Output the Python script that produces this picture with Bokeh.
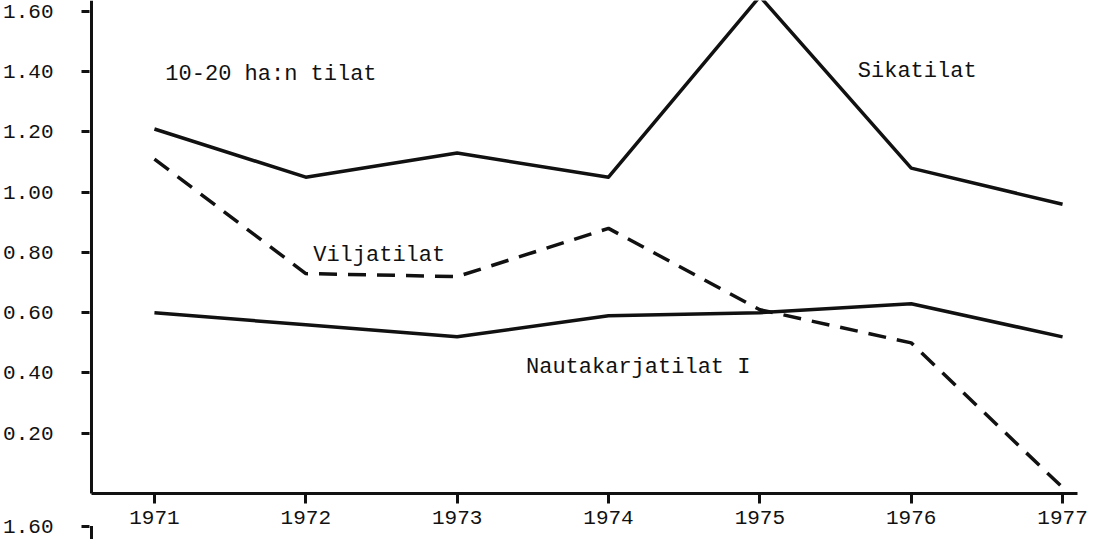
from bokeh.plotting import figure
from bokeh.models import Range1d, FixedTicker, NumeralTickFormatter, Label, LinearAxis
from bokeh.embed import file_html
from bokeh.resources import INLINE

years = [1971, 1972, 1973, 1974, 1975, 1976, 1977]
sikatilat = [1.21, 1.05, 1.13, 1.05, 1.65, 1.08, 0.96]
viljatilat = [1.11, 0.73, 0.72, 0.88, 0.61, 0.50, 0.02]
nautakarjatilat = [0.60, 0.56, 0.52, 0.59, 0.60, 0.63, 0.52]
y_ticks = [0.2, 0.4, 0.6, 0.8, 1.0, 1.2, 1.4, 1.6]
# top tick label of the next chart on the scanned page, cut by the page edge
next_chart_label = "1.60"

FONT = "Liberation Mono"
INK = "#111111"

X0, X1 = 1970.571, 1977.178      # x range (frame spans whole right side)
XA = X0 + 0.0132                  # where the hand-drawn y axis line sits
X_END = 1977.099                  # end of the drawn x axis line
Y0, Y1 = -0.1527, 1.6365
NEXT_TICK = -0.108

p = figure(width=1089, height=539, output_backend="svg", toolbar_location=None,
           x_range=Range1d(X0, X1), y_range=Range1d(Y0, Y1),
           x_axis_location=None, y_axis_location=None,
           min_border_left=88, min_border_right=0, min_border_top=0, min_border_bottom=0)
p.outline_line_color = None
p.grid.grid_line_color = None
p.background_fill_color = "white"
p.border_fill_color = "white"


def style(ax):
    ax.axis_line_width = 3
    ax.axis_line_color = INK
    ax.major_tick_line_width = 3
    ax.major_tick_line_color = INK
    ax.major_tick_in = 0
    ax.minor_tick_line_color = None
    ax.major_label_text_font = FONT
    ax.major_label_text_font_size = "21px"
    ax.major_label_text_color = INK


xaxis = LinearAxis(fixed_location=0, bounds=(XA, X_END), ticker=FixedTicker(ticks=years))
style(xaxis)
xaxis.major_tick_out = 10
xaxis.major_label_standoff = 8
p.add_layout(xaxis, "below")

yaxis = LinearAxis(ticker=FixedTicker(ticks=[NEXT_TICK] + y_ticks),
                   formatter=NumeralTickFormatter(format="0.00"),
                   major_label_overrides={NEXT_TICK: next_chart_label})
style(yaxis)
yaxis.axis_line_color = None
yaxis.major_tick_out = 8
yaxis.major_label_standoff = 28
p.add_layout(yaxis, "left")

# y axis line: main chart part, and the start of the next chart below
p.line([XA, XA], [0, Y1], line_width=3, line_color=INK)
p.line([XA, XA], [NEXT_TICK, Y0], line_width=3, line_color=INK)

p.line(years, sikatilat, line_width=3.5, line_color=INK, line_join="round")
p.line(years, nautakarjatilat, line_width=3.5, line_color=INK, line_join="round")
p.line(years, viljatilat, line_width=3.5, line_color=INK, line_dash="18 11", line_join="round")


def lab(x, y, t):
    p.add_layout(Label(x=x, y=y, text=t, text_font=FONT, text_font_size="22px",
                       text_color=INK, text_baseline="alphabetic", text_align="left"))


lab(1971.072, 1.391, "10-20 ha:n tilat")
lab(1975.647, 1.401, "Sikatilat")
lab(1972.049, 0.790, "Viljatilat")
lab(1973.455, 0.418, "Nautakarjatilat I")

open("out.html", "w").write(file_html(p, INLINE))
